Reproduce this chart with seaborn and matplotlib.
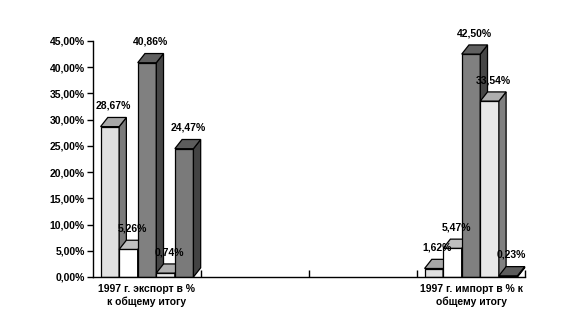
import matplotlib
matplotlib.use("Agg")
import matplotlib.pyplot as plt
from matplotlib.patches import Polygon
from matplotlib.ticker import FixedLocator, FuncFormatter
import numpy as np
import pandas as pd
import seaborn as sns

# ---- data ----
categories = ['1997 г. экспорт в %\nк общему итогу', ' ', '  ', '1997 г. импорт в % к\nобщему итогу']
series = ['Ряд1', 'Ряд2', 'Ряд3', 'Ряд4', 'Ряд5']
export_values = [28.67, 5.26, 40.86, 0.74, 24.47]
import_values = [1.62, 5.47, 42.50, 33.54, 0.23]
front_colors = ['#e0e0e0', '#ffffff', '#808080', '#e8e8e8', '#7a7a7a']
y_ticks = [0, 5, 10, 15, 20, 25, 30, 35, 40, 45]

df = pd.DataFrame({
    'category': [categories[0]] * len(series) + [categories[3]] * len(series),
    'series': series + series,
    'value': export_values + import_values,
})

sns.set_style('white')
plt.rcParams['font.family'] = ['Liberation Sans', 'DejaVu Sans']
plt.rcParams['text.color'] = 'black'
plt.rcParams['xtick.color'] = 'black'
plt.rcParams['ytick.color'] = 'black'
plt.rcParams['axes.labelcolor'] = 'black'

fig = plt.figure(figsize=(5.85, 3.3), dpi=100)
ax = fig.add_axes([93 / 585, 1 - 277 / 330, 432 / 585, 236 / 330])

sns.barplot(data=df, x='category', y='value', hue='series', order=categories,
            hue_order=series, palette=front_colors, width=0.86, saturation=1,
            edgecolor='black', linewidth=0.9, legend=False, ax=ax)

ax.set_xlim(-0.5, 3.5)
ax.set_ylim(0, 45)

dx, dy = 0.067, 1.75


def shade(c, f):
    r, g, b = matplotlib.colors.to_rgb(c)
    return (r * f, g * f, b * f)


bars = [p for p in ax.patches if np.isfinite(p.get_height())]
bars.sort(key=lambda p: p.get_x())
for i, p in enumerate(bars):
    x0, w, h = p.get_x(), p.get_width(), p.get_height()
    fc = p.get_facecolor()
    base = 2 + 3 * i
    p.set_zorder(base)
    top = Polygon([(x0, h), (x0 + w, h), (x0 + w + dx, h + dy), (x0 + dx, h + dy)],
                  closed=True, facecolor=shade(fc, 0.75), edgecolor='black',
                  linewidth=0.9, zorder=base + 1, clip_on=False)
    side = Polygon([(x0 + w, 0), (x0 + w + dx, dy), (x0 + w + dx, h + dy), (x0 + w, h)],
                   closed=True, facecolor=shade(fc, 0.55), edgecolor='black',
                   linewidth=0.9, zorder=base + 1, clip_on=False)
    ax.add_patch(side)
    ax.add_patch(top)
    label = f"{h:.2f}".replace('.', ',') + '%'
    ax.annotate(label, (x0 + w / 2 + dx / 2, h + dy), xytext=(0, 8.5),
                textcoords='offset points', ha='center', va='center',
                fontsize=7.5, fontweight='bold', color='black', zorder=100,
                annotation_clip=False)

# axes styling
for s in ['top', 'right']:
    ax.spines[s].set_visible(False)
for s in ['left', 'bottom']:
    ax.spines[s].set_color('black')
    ax.spines[s].set_linewidth(1)
    ax.spines[s].set_zorder(50)

ax.set_yticks(y_ticks)
ax.yaxis.set_major_formatter(FuncFormatter(lambda v, _: f"{v:.2f}".replace('.', ',') + '%'))
ax.tick_params(axis='y', direction='out', length=4, width=1, color='black',
               labelcolor='black', labelsize=7.5, pad=2, left=True)
for t in ax.get_yticklabels():
    t.set_fontweight('bold')

ax.set_xticks(range(len(categories)))
ax.set_xticklabels(categories, fontsize=7.5, fontweight='bold', linespacing=1.35,
                   color='black')
ax.xaxis.set_minor_locator(FixedLocator([0.5, 1.5, 2.5, 3.5]))
ax.tick_params(axis='x', which='major', length=0, pad=5, labelcolor='black')
ax.tick_params(axis='x', which='minor', direction='in', length=5, width=1,
               color='black', bottom=True)
ax.set_xlabel('')
ax.set_ylabel('')
ax.grid(False)

fig.savefig('out.png', dpi=100)
